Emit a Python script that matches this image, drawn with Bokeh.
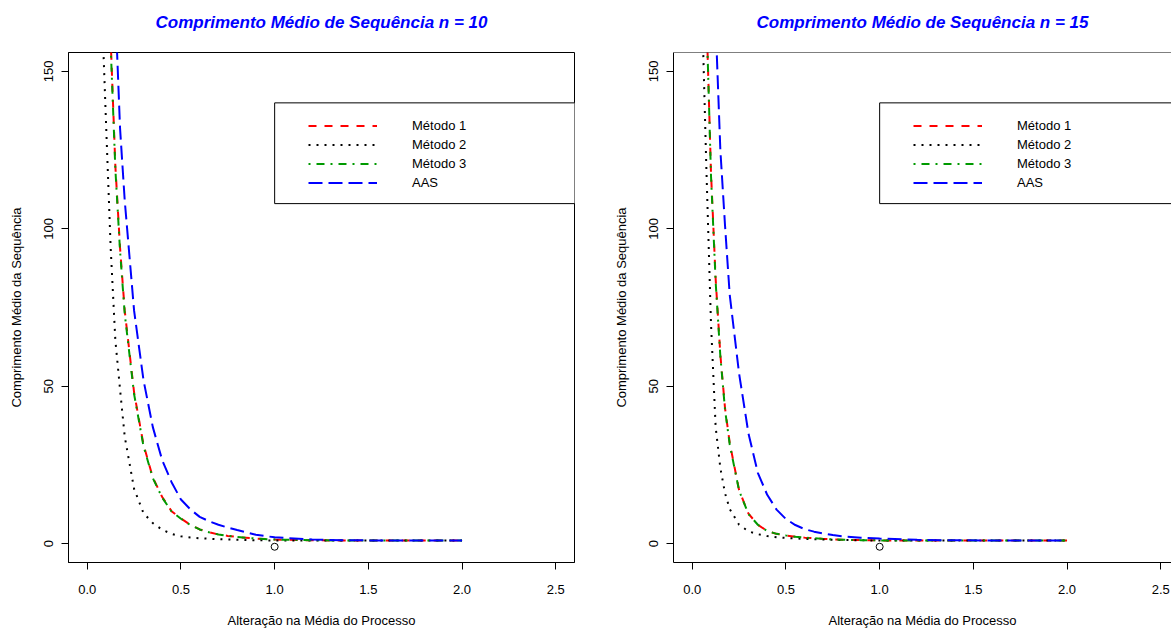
from bokeh.plotting import figure
from bokeh.models import Range1d, FixedTicker, Legend, LegendItem, Span, NumeralTickFormatter, Title
from bokeh.layouts import row
from bokeh.embed import file_html
from bokeh.resources import INLINE

# ---------------- data ----------------
shift = [0.025, 0.05, 0.075, 0.1, 0.125, 0.15, 0.175, 0.2, 0.25, 0.3, 0.35, 0.4,
         0.45, 0.5, 0.55, 0.6, 0.65, 0.7, 0.75, 0.8, 0.9, 1.0, 1.2, 1.4, 1.6, 1.8, 2.0]

n10_metodo1 = [700, 480, 330, 230, 160, 120, 94, 74, 48, 31.5, 21, 14.8,
               10.3, 8.0, 6.0, 4.5, 3.6, 2.9, 2.45, 2.1, 1.6, 1.3, 1.05, 1.0, 1.0, 1.0, 1.0]
n10_metodo2 = [340, 260, 175, 134, 94, 64.6, 49, 34, 17.4, 9.7, 6.5, 4.4,
               3.1, 2.3, 1.95, 1.7, 1.55, 1.4, 1.3, 1.2, 1.05, 1.0, 1.0, 1.0, 1.0, 1.0, 1.0]
n10_metodo3 = [700, 480, 330, 228, 158, 119, 93, 73, 47.5, 31, 20.8, 14.6,
               10.2, 7.9, 5.9, 4.5, 3.6, 2.9, 2.45, 2.1, 1.6, 1.3, 1.05, 1.0, 1.0, 1.0, 1.0]
n10_aas = [1200, 800, 550, 400, 260, 170, 132, 109, 74, 52, 37, 26.5,
           19.5, 14, 10.9, 8.5, 7.1, 6.0, 5.1, 4.3, 2.8, 2.0, 1.3, 1.05, 1.0, 1.0, 1.0]

n15_metodo1 = [700, 400, 170, 118, 84, 60, 43, 32, 17, 9.5, 6.0, 4.0,
               3.1, 2.6, 2.2, 1.9, 1.7, 1.5, 1.37, 1.25, 1.1, 1.02, 1.0, 1.0, 1.0, 1.0, 1.0]
n15_metodo2 = [300, 175, 120, 70, 37, 24, 16, 11, 6.0, 3.9, 3.0, 2.4,
               2.0, 1.8, 1.63, 1.5, 1.4, 1.3, 1.22, 1.15, 1.05, 1.0, 1.0, 1.0, 1.0, 1.0, 1.0]
n15_metodo3 = [700, 400, 170, 117, 83, 59.5, 42.5, 31.5, 16.8, 9.4, 6.0, 4.0,
               3.1, 2.6, 2.2, 1.9, 1.7, 1.5, 1.37, 1.25, 1.1, 1.02, 1.0, 1.0, 1.0, 1.0, 1.0]
n15_aas = [1000, 600, 400, 250, 165, 125, 101, 79, 54, 35, 22.5, 15.5,
           10.8, 7.8, 5.9, 4.6, 3.8, 3.2, 2.7, 2.3, 1.9, 1.6, 1.2, 1.05, 1.0, 1.0, 1.0]

point_x = [1.0]
point_y = [-1.0]

series_names = ["Método 1", "Método 2", "Método 3", "AAS"]
series_colors = ["#FF0000", "#000000", "#009A00", "#0000FF"]
series_dashes = ["8 8", "2 6", "2 6 8 6", "14 6"]

x_ticks = [0.0, 0.5, 1.0, 1.5, 2.0, 2.5]
y_ticks = [0, 50, 100, 150]

legend_left = 1.0
legend_right = 3.0
legend_top = 140.0
legend_bottom = 108.0

FONT = "Liberation Sans"


def make_panel(title, data, width, x_end, min_right, outline):
    p = figure(width=width, height=630, output_backend="svg", toolbar_location=None,
               title=None,
               x_range=Range1d(-0.1, x_end), y_range=Range1d(-6, 156),
               min_border_left=68, min_border_right=min_right,
               min_border_top=52, min_border_bottom=67)
    p.background_fill_color = "white"
    p.border_fill_color = "white"
    p.xgrid.visible = False
    p.ygrid.visible = False
    if outline:
        p.outline_line_color = "black"
        p.outline_line_width = 1
    else:
        p.outline_line_color = None
        p.add_layout(Span(location=156, dimension="width", line_color="black", line_width=1))

    # spacer panel next to the frame, then the real title on top of it
    p.add_layout(Title(text=" ", text_font_size="1px", standoff=10), "above")
    p.add_layout(Title(text=title, text_font=FONT, text_font_style="bold italic",
                       text_font_size="17px", text_color="#0000FF", align="center",
                       standoff=16), "above")

    for ax in (p.xaxis[0], p.yaxis[0]):
        ax.axis_line_color = "black"
        ax.major_tick_line_color = "black"
        ax.major_tick_in = 0
        ax.major_tick_out = 7
        ax.minor_tick_line_color = None
        ax.major_label_text_font = FONT
        ax.major_label_text_font_size = "13px"
        ax.major_label_text_color = "black"
        ax.axis_label_text_font = FONT
        ax.axis_label_text_font_size = "13px"
        ax.axis_label_text_font_style = "normal"
        ax.axis_label_text_color = "black"

    p.xaxis.ticker = FixedTicker(ticks=x_ticks)
    p.xaxis.formatter = NumeralTickFormatter(format="0.0")
    p.xaxis.major_label_standoff = 15
    p.xaxis.axis_label = "Alteração na Média do Processo"
    p.xaxis.axis_label_standoff = 16

    p.yaxis.ticker = FixedTicker(ticks=y_ticks)
    p.yaxis.major_label_orientation = "vertical"
    p.yaxis.major_label_standoff = 8
    p.yaxis.axis_label = "Comprimento Médio da Sequência"
    p.yaxis.axis_label_standoff = 18

    # legend box
    p.quad(left=[legend_left], right=[legend_right], top=[legend_top], bottom=[legend_bottom],
           fill_color="white", line_color="black", line_width=1)

    renderers = []
    for ys, name, col, dash in zip(data, series_names, series_colors, series_dashes):
        r = p.line(shift, ys, line_color=col, line_width=2, line_dash=dash)
        renderers.append(r)

    p.scatter(point_x, point_y, marker="circle", size=7, fill_color=None,
              line_color="black", line_width=1)

    legend = Legend(items=[LegendItem(label=n, renderers=[r]) for n, r in zip(series_names, renderers)],
                    location=(240, 370), glyph_width=69, glyph_height=19, label_height=19,
                    label_standoff=35, spacing=0, padding=0, margin=0,
                    border_line_alpha=0, background_fill_alpha=0,
                    label_text_font=FONT, label_text_font_size="13px", label_text_color="black")
    p.add_layout(legend)
    return p


p1 = make_panel("Comprimento Médio de Sequência n = 10",
                [n10_metodo1, n10_metodo2, n10_metodo3, n10_aas],
                605, 2.6, 31, True)
p2 = make_panel("Comprimento Médio de Sequência n = 15",
                [n15_metodo1, n15_metodo2, n15_metodo3, n15_aas],
                566, -0.1 + 2.7 * 498 / 506, 0, False)

layout = row(p1, p2)
open("out.html", "w").write(file_html(layout, INLINE))
